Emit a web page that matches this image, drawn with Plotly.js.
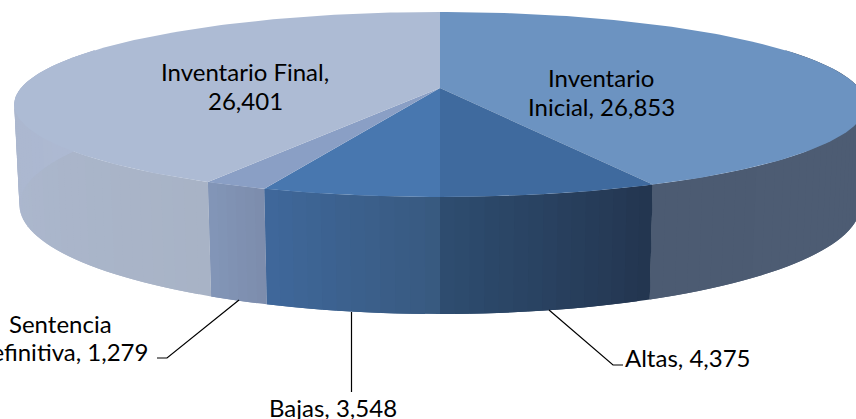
<!DOCTYPE html>
<html><head><meta charset="utf-8">
<script src="https://cdn.plot.ly/plotly-3.0.1.min.js"></script>
<style>html,body{margin:0;padding:0;background:#fff;overflow:hidden}#c{width:856px;height:419px}</style>
</head><body><div id="c"></div>
<script>
// Data
const categories = ["Inventario Inicial","Altas","Bajas","Sentencia definitiva","Inventario Final"];
const values = [26853,4375,3548,1279,26401];
// Styles
const topColors = ["#6C93C1","#3F6A9E","#4877AF","#8A9FC5","#ADBBD4"];
const wallStops = [
  [[0,"#5C6C83"],[0.35,"#4E5D74"],[1,"#4C5B72"]],
  [[0,"#23354F"],[1,"#2E4D70"]],
  [[0,"#38597F"],[1,"#3F689B"]],
  [[0,"#7C8CAC"],[1,"#8396B8"]],
  [[0,"#A8B3C6"],[0.6,"#ACB8CF"],[1,"#ADB9D3"]]
];
const labelLines = [
  {t:"Inventario", x:601, y:77, a:"center"},
  {t:"Inicial, 26,853", x:601, y:106, a:"center"},
  {t:"Inventario Final,", x:245, y:71, a:"center"},
  {t:"26,401", x:245, y:100, a:"center"},
  {t:"Sentencia", x:60, y:323, a:"center"},
  {t:"definitiva, 1,279", x:150, y:351, a:"right"},
  {t:"Bajas, 3,548", x:333, y:407, a:"center"},
  {t:"Altas, 4,375", x:688, y:357, a:"center"}
];
// Projection parameters of the tilted disc (pixels of the 856x419 frame)
const CX=440, CY=88, R=419, A=0.178, B=89.6, C=98.9, D=0.012;
function proj(theta, z){
  const u=Math.sin(theta), v=-Math.cos(theta), w=1-A*v+D*z;
  return [CX+R*u/w, CY+(B*v+C*z)/w];
}
function hex(c){return [1,3,5].map(i=>parseInt(c.substr(i,2),16));}
function mix(stops,f){
  for(let i=1;i<stops.length;i++){
    if(f<=stops[i][0]){
      const a=stops[i-1],b=stops[i],t=(f-a[0])/(b[0]-a[0]||1);
      const ca=hex(a[1]),cb=hex(b[1]);
      return "rgb("+ca.map((x,k)=>Math.round(x+(cb[k]-x)*t)).join(",")+")";
    }
  }
  return stops[stops.length-1][1];
}
const total=values.reduce((a,b)=>a+b,0);
const traces=[];
let acc=0;
const slices=values.map(val=>{const s=acc/total*2*Math.PI; acc+=val; return [s,acc/total*2*Math.PI];});
function poly(xs,ys,color){
  traces.push({type:"scatter",mode:"lines",x:xs,y:ys,fill:"toself",fillcolor:color,
    line:{color:color,width:0},hoverinfo:"skip",showlegend:false});
}
// walls: each band overlaps the next one, painted in order, so that no seam shows
const VIS0=Math.PI*0.35, VIS1=Math.PI*1.65;
slices.forEach((s,i)=>{
  const a0=Math.max(s[0],VIS0), a1=Math.min(s[1],VIS1);
  if(a1<=a0) return;
  const n=Math.max(6,Math.round((a1-a0)/0.03));
  for(let k=0;k<n;k++){
    const t0=a0+(a1-a0)*k/n, t1=Math.min(a1,a0+(a1-a0)*(k+2)/n);
    const p=[proj(t0,0),proj((t0+t1)/2,0),proj(t1,0),proj(t1,1),proj((t0+t1)/2,1),proj(t0,1)];
    poly(p.map(q=>q[0]),p.map(q=>q[1]),mix(wallStops[i],(k+0.5)/n));
  }
});
// top faces
slices.forEach((s,i)=>{
  const n=Math.max(8,Math.round((s[1]-s[0])/0.02));
  const xs=[CX], ys=[CY];
  for(let k=0;k<=n;k++){const q=proj(s[0]+(s[1]-s[0])*k/n,0); xs.push(q[0]); ys.push(q[1]);}
  xs.push(CX); ys.push(CY);
  poly(xs,ys,topColors[i]);
});
// leader lines
const leaderX=[[239,167,157],[351.5,351.5],[549,613,623]];
const leaderY=[[300,358,358],[312,392],[310,365,365]];
leaderX.forEach((lx,i)=>traces.push({type:"scatter",mode:"lines",x:lx,y:leaderY[i],
  line:{color:"#000",width:1.2},hoverinfo:"skip",showlegend:false}));
const annotations=labelLines.map(l=>({xref:"x",yref:"y",x:l.x,y:l.y,text:l.t,showarrow:false,
  xanchor:l.a,yanchor:"middle",font:{family:"Lato, sans-serif",size:24,color:"#000"}}));
Plotly.newPlot("c",traces,{
  width:856,height:419,margin:{l:0,r:0,t:0,b:0},
  paper_bgcolor:"#fff",plot_bgcolor:"#fff",showlegend:false,
  xaxis:{range:[0,856],visible:false,fixedrange:true},
  yaxis:{range:[419,0],visible:false,fixedrange:true},
  annotations:annotations
},{displayModeBar:false,staticPlot:true});
</script></body></html>
